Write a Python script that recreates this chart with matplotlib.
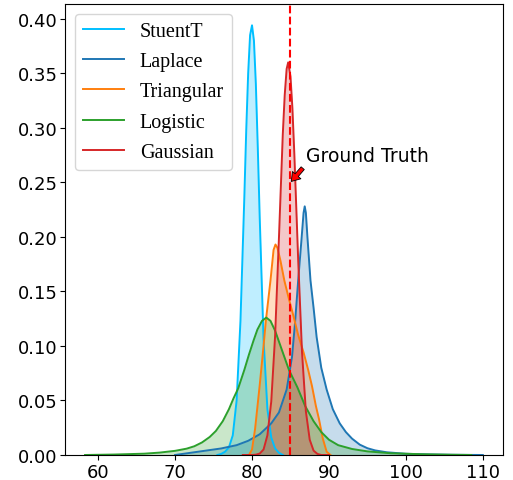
import numpy as np
import matplotlib
matplotlib.use("Agg")
import matplotlib.pyplot as plt

# --- densities (x, density) ---
st_x = [75.5, 76.0, 76.5, 77.0, 77.5, 78.0, 78.5, 79.0, 79.25, 79.5, 79.75, 80.0,
        80.25, 80.5, 80.75, 81.0, 81.5, 82.0, 82.5, 83.0, 83.5, 84.0]
st_y = [0.0, 0.001, 0.003, 0.007, 0.018, 0.05, 0.123, 0.236, 0.298, 0.350, 0.385, 0.394,
        0.380, 0.340, 0.282, 0.218, 0.106, 0.042, 0.016, 0.006, 0.002, 0.0]

la_x = [70.0, 72.0, 74.0, 76.0, 78.0, 79.5, 81.0, 82.5, 83.5, 84.5, 85.2, 85.6, 86.0,
        86.4, 86.7, 86.85, 87.0, 87.2, 87.6, 88.0, 88.4, 89.0, 89.7, 90.5, 91.4, 92.2,
        93.0, 94.0, 95.0, 96.0, 97.5, 100.0, 103.0, 106.0, 110.0]
la_y = [0.0, 0.002, 0.004, 0.006, 0.009, 0.013, 0.019, 0.029, 0.039, 0.06, 0.09, 0.122,
        0.16, 0.195, 0.222, 0.228, 0.222, 0.20, 0.16, 0.135, 0.108, 0.08, 0.06, 0.042,
        0.029, 0.021, 0.015, 0.0095, 0.0062, 0.0042, 0.0025, 0.0011, 0.0005, 0.0002, 0.0]

tr_x = [79.6, 80.0, 80.4, 81.0, 81.5, 81.8, 82.4, 82.8, 83.05, 83.3, 83.7, 84.2, 84.8,
        85.4, 86.0, 86.7, 87.3, 87.8, 88.3, 88.7, 89.2, 89.7, 90.2]
tr_y = [0.0, 0.005, 0.024, 0.064, 0.10, 0.123, 0.16, 0.188, 0.193, 0.19, 0.178, 0.16,
        0.143, 0.127, 0.11, 0.094, 0.078, 0.063, 0.045, 0.033, 0.015, 0.003, 0.0]

lo_x = [58.3, 62.0, 66.0, 68.0, 70.0, 71.5, 72.5, 73.5, 74.5, 75.3, 76.2, 77.0, 77.6,
        78.2, 79.0, 79.6, 80.2, 80.7, 81.3, 81.85, 82.4, 83.0, 83.6, 84.0, 84.8, 85.9,
        86.9, 88.0, 89.0, 90.0, 91.2, 93.0, 95.0, 98.0, 102.0, 106.0, 108.5]
lo_y = [0.0, 0.0004, 0.0012, 0.0022, 0.0038, 0.0058, 0.008, 0.0115, 0.0165, 0.022,
        0.031, 0.042, 0.052, 0.061, 0.078, 0.092, 0.105, 0.115, 0.123, 0.126, 0.123,
        0.114, 0.102, 0.094, 0.078, 0.062, 0.045, 0.031, 0.021, 0.014, 0.009, 0.0055,
        0.0033, 0.0016, 0.0007, 0.0002, 0.0]

ga_x = [78.8, 80.0, 80.5, 81.0, 81.5, 82.0, 82.5, 83.0, 83.5, 84.0, 84.25, 84.5, 84.7,
        85.0, 85.25, 85.5, 86.0, 86.5, 87.0, 87.5, 88.0, 88.5, 89.0, 90.0]
ga_y = [0.0, 0.0, 0.0003, 0.0013, 0.005, 0.018, 0.049, 0.109, 0.199, 0.294, 0.330, 0.354,
        0.360, 0.347, 0.318, 0.276, 0.179, 0.094, 0.040, 0.014, 0.004, 0.001, 0.0, 0.0]

labels = ["StuentT", "Laplace", "Triangular", "Logistic", "Gaussian"]
colors = ["deepskyblue", "tab:blue", "tab:orange", "tab:green", "tab:red"]
series = [(st_x, st_y), (la_x, la_y), (tr_x, tr_y), (lo_x, lo_y), (ga_x, ga_y)]
ground_truth = 85

fig = plt.figure(figsize=(5.13, 4.81), dpi=100)
ax = fig.add_axes([0.127, 0.052, 0.853, 0.938])

for (xs, ys), lab, col in zip(series, labels, colors):
    ax.plot(xs, ys, color=col, lw=1.4, label=lab)
    ax.fill_between(xs, ys, color=col, alpha=0.25, lw=0)

ax.axvline(ground_truth, color="red", linestyle="--", lw=1.5)
ax.annotate("Ground Truth", xy=(85, 0.25), xytext=(87, 0.27), fontsize=13.5,
            arrowprops=dict(facecolor="red", shrink=0.05, width=3, headwidth=8,
                            headlength=6, lw=0.6))

ax.set_ylim(0, None)
ax.tick_params(labelsize=13, pad=2)
ax.legend(loc="upper left", prop={"family": "Liberation Serif", "size": 14.5},
          labelspacing=0.55, handlelength=2.0)

fig.savefig("out.png", dpi=100)
